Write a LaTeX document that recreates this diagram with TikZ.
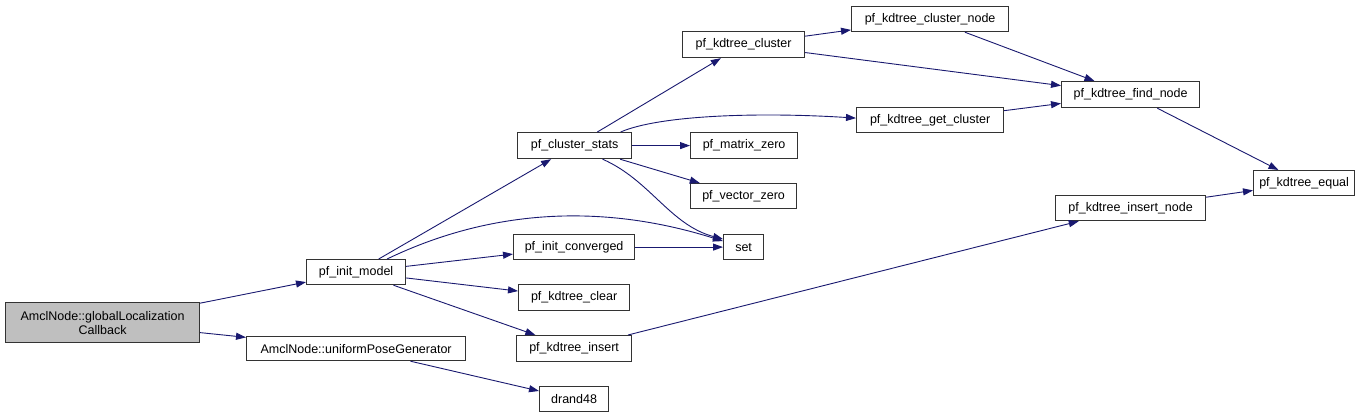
\documentclass[tikz,border=0pt]{standalone}
\usepackage{fontspec}
\setmainfont{Liberation Sans}
\usetikzlibrary{arrows.meta,calc}
\definecolor{edgecol}{HTML}{191970}
\definecolor{grey75}{HTML}{BFBFBF}
\tikzset{
  box/.style={draw=black!80, line width=1.2pt, fill=white, rectangle, anchor=north west,
    inner sep=0pt, font=\fontsize{12.5}{14}\selectfont, align=center},
  rootbox/.style={box, fill=grey75},
  call/.style={draw=edgecol, line width=0.9pt, -{Triangle[length=10pt,width=7pt]}},
}
\begin{document}
\begin{tikzpicture}[x=1pt,y=-1pt]
\useasboundingbox[fill=white] (0,0) rectangle (1372,417);
% nodes
\node[rootbox, minimum width=194pt, minimum height=40pt] (global) at (5,302) {AmclNode::globalLocalization\\Callback};
\node[box, minimum width=99pt, minimum height=25pt] (pfinit) at (306,259) {pf\_init\_model};
\node[box, minimum width=219pt, minimum height=24pt] (upg) at (246,336) {AmclNode::uniformPoseGenerator};
\node[box, minimum width=114pt, minimum height=26pt] (cstats) at (517,132) {pf\_cluster\_stats};
\node[box, minimum width=107pt, minimum height=26pt] (mzero) at (690,132) {pf\_matrix\_zero};
\node[box, minimum width=106pt, minimum height=25pt] (vzero) at (690,183) {pf\_vector\_zero};
\node[box, minimum width=40pt, minimum height=25pt] (set) at (723,234) {set};
\node[box, minimum width=121pt, minimum height=25pt] (iconv) at (513,234) {pf\_init\_converged};
\node[box, minimum width=111pt, minimum height=26pt] (kclear) at (518,284) {pf\_kdtree\_clear};
\node[box, minimum width=115pt, minimum height=26pt] (kinsert) at (516,335) {pf\_kdtree\_insert};
\node[box, minimum width=69pt, minimum height=25pt] (drand) at (539,386) {drand48};
\node[box, minimum width=122pt, minimum height=26pt] (kcluster) at (682,31) {pf\_kdtree\_cluster};
\node[box, minimum width=157pt, minimum height=25pt] (kcnode) at (851,6) {pf\_kdtree\_cluster\_node};
\node[box, minimum width=138pt, minimum height=26pt] (kfind) at (1061,81) {pf\_kdtree\_find\_node};
\node[box, minimum width=147pt, minimum height=25pt] (kgetc) at (856,107) {pf\_kdtree\_get\_cluster};
\node[box, minimum width=150pt, minimum height=25pt] (kinode) at (1055,195) {pf\_kdtree\_insert\_node};
\node[box, minimum width=101pt, minimum height=25pt] (kequal) at (1253,170) {pf\_kdtree\_equal};
% edges
\draw[call] (global) -- (pfinit);
\draw[call] (global) -- (upg);
\draw[call] (upg) -- (drand);
\draw[call] (pfinit) -- (cstats);
\draw[call] ($(pfinit.north)+(31,0)$) .. controls (520,195) and (640,215) .. ($(set.west)+(0,-6)$);
\draw[call] (pfinit) -- (iconv);
\draw[call] (pfinit) -- (kclear);
\draw[call] (pfinit) -- (kinsert);
\draw[call] (cstats) -- (kcluster);
\draw[call] ($(cstats.north)+(46,0)$) .. controls (660,115) and (760,112) .. ($(kgetc.west)+(0,-2)$);
\draw[call] (cstats) -- (mzero);
\draw[call] (cstats) -- (vzero);
\draw[call] ($(cstats.south)+(28,0)$) .. controls (650,180) and (670,225) .. ($(set.west)+(0,-8)$);
\draw[call] (iconv) -- (set);
\draw[call] (kinsert) -- (kinode);
\draw[call] (kcluster) -- (kcnode);
\draw[call] (kcluster) -- (kfind);
\draw[call] (kcnode) -- (kfind);
\draw[call] (kgetc) -- (kfind);
\draw[call] (kfind) -- (kequal);
\draw[call] (kinode) -- (kequal);
\end{tikzpicture}
\end{document}
